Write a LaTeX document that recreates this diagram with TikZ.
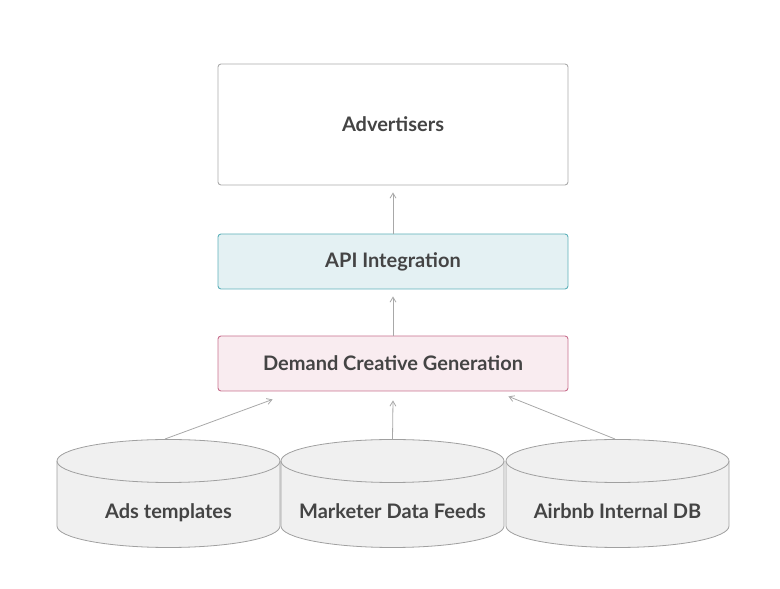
\documentclass[tikz,border=0pt]{standalone}
\usepackage{fontspec}
\setmainfont{Lato}
\usetikzlibrary{arrows.meta,calc}
\definecolor{txt}{HTML}{444444}
\definecolor{edge}{HTML}{A8A8A8}
\definecolor{boxline}{HTML}{ABABAB}
\definecolor{apifill}{HTML}{E4F1F3}
\definecolor{apiline}{HTML}{5EB1BA}
\definecolor{dcgfill}{HTML}{F9ECF0}
\definecolor{dcgline}{HTML}{C8708E}
\definecolor{cylfill}{HTML}{F0F0F0}
\definecolor{cylline}{HTML}{A0A0A0}
\tikzset{
  lbl/.style={font=\fontsize{20}{24}\selectfont\bfseries, text=txt},
  box/.style={lbl, rounded corners=3pt, line width=0.9pt, minimum width=350pt, minimum height=55pt, inner sep=0pt},
  arr/.style={draw=edge, line width=0.8pt, -{Straight Barb[length=5pt,width=6pt]}},
  cyl/.style={fill=cylfill, draw=cylline, line width=0.8pt}
}
\begin{document}
\begin{tikzpicture}[x=1pt,y=1pt]
\useasboundingbox (0,0) rectangle (780,589);
\node[box, draw=boxline, fill=white, minimum height=121pt] (adv) at (393,464.5) {Advertisers};
\node[box, draw=apiline, fill=apifill] (api) at (393,327.5) {API Integration};
\node[box, draw=dcgline, fill=dcgfill] (dcg) at (393,225.5) {Demand Creative Generation};
% cylinders
\foreach \cx/\nm/\t in {168.5/ads/Ads templates, 392.5/mkt/Marketer Data Feeds, 617.5/abb/Airbnb Internal DB}{
  \path[cyl] (\cx-111.5,128) -- (\cx-111.5,63) arc (180:360:111.5 and 21.5) -- (\cx+111.5,128) arc (0:180:111.5 and 21.5) -- cycle;
  \draw[cylline, line width=0.8pt] (\cx-111.5,128) arc (180:360:111.5 and 21.5);
  \node[lbl, anchor=base] (\nm) at (\cx,70) {\t};
  \coordinate (\nm top) at (\cx,149.5);
}
\coordinate (c1) at (165,150);
\coordinate (c3) at (615,150);
\draw[arr] (api.north) -- ([yshift=-7pt]adv.south);
\draw[arr] (dcg.north) -- ([yshift=-7pt]api.south);
\draw[arr] (c1) -- ([shift={(55pt,-8pt)}]dcg.south west);
\draw[arr] (mkttop) -- ([yshift=-9pt]dcg.south);
\draw[arr] (c3) -- ([shift={(-60pt,-5pt)}]dcg.south east);
\end{tikzpicture}
\end{document}
